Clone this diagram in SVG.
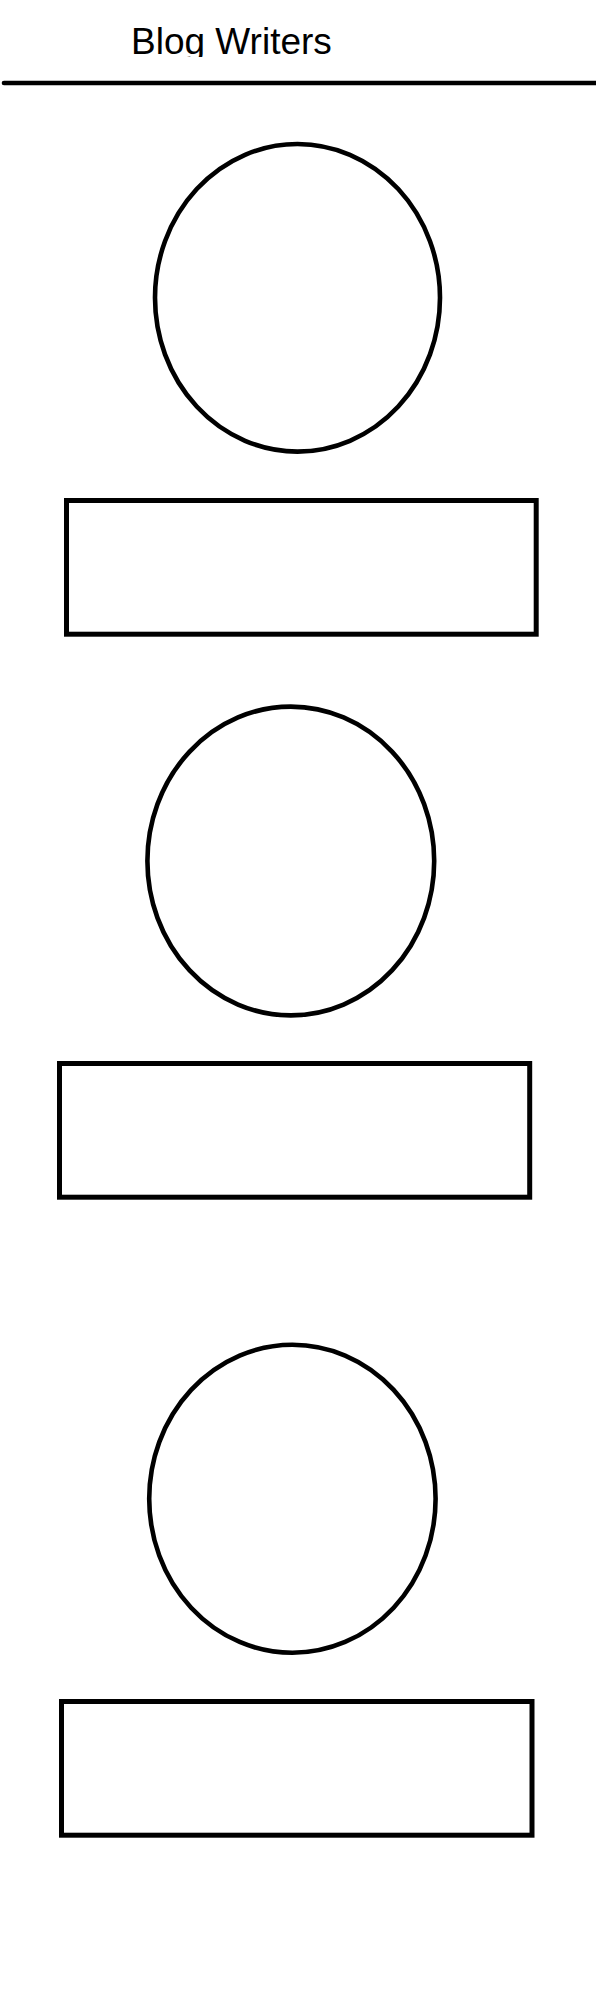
<svg xmlns="http://www.w3.org/2000/svg" width="596" height="2004" viewBox="0 0 596 2004">
<style>
.photo{fill:none;stroke:#000;stroke-width:4.6}
.box{fill:none;stroke:#000;stroke-width:5}
.title{font-family:"Liberation Sans",Arial,sans-serif;font-size:37px;fill:#000}
</style>
<defs>
<clipPath id="titleClip"><rect x="0" y="0" width="596" height="57"/></clipPath>
</defs>
<rect width="596" height="2004" fill="#fff"/>
<g id="header">
<text class="title" x="131" y="53.5" clip-path="url(#titleClip)">Blog Writers</text>
<line x1="4" y1="83" x2="596" y2="83" stroke="#000" stroke-width="4.6" stroke-linecap="round"/>
</g>
<g id="connectors"></g>
<g id="writer1-photo"><ellipse class="photo" cx="297.5" cy="297.8" rx="142.5" ry="153.8"/></g>
<g id="writer1-box"><rect class="box" x="66.5" y="500.5" width="469.7" height="133.7"/></g>
<g id="writer2-photo"><ellipse class="photo" cx="290.8" cy="861" rx="143.4" ry="154.4"/></g>
<g id="writer2-box"><rect class="box" x="59.5" y="1063.5" width="470.2" height="133.7"/></g>
<g id="writer3-photo"><ellipse class="photo" cx="292.4" cy="1498.8" rx="143.2" ry="154"/></g>
<g id="writer3-box"><rect class="box" x="61.5" y="1701.5" width="470.5" height="133.7"/></g>
</svg>
